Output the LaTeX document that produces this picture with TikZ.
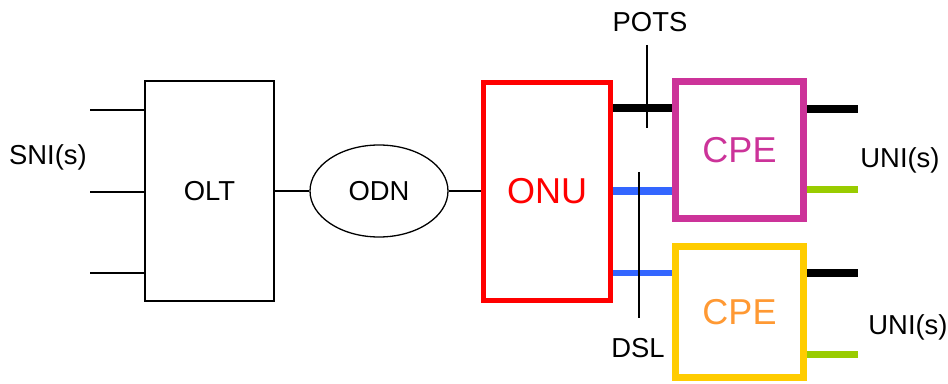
\documentclass[tikz,border=0pt]{standalone}
\usepackage{fontspec}
\setmainfont{Liberation Sans}
\usepackage{xcolor}
\usetikzlibrary{shapes.geometric}
\definecolor{onured}{HTML}{FF0000}
\definecolor{cpepink}{HTML}{CC3399}
\definecolor{cpegold}{HTML}{FFCC00}
\definecolor{cpeorange}{HTML}{FF9933}
\definecolor{dslblue}{HTML}{3366FF}
\definecolor{unigreen}{HTML}{99CC00}

\begin{document}
\begin{tikzpicture}[
   x=0.5pt,
   y=-0.5pt,
   line cap=butt,
   every node/.style={font=\fontsize{13.7}{16}\selectfont},
   box/.style={draw,rectangle,inner sep=0pt},
   bigtext/.style={font=\fontsize{18}{20}\selectfont},
   thin link/.style={line width=0.7pt},
   fat link/.style={line width=3.75pt}
 ]
   \useasboundingbox (0,0) rectangle (948,384);

   % Optical part: OLT, distribution network and ONU.
   \node[box,line width=0.75pt,minimum width=64.5pt,minimum height=110pt] (olt) at (209.5,191) {OLT};
   \node[draw,ellipse,inner sep=0pt,line width=0.65pt,minimum width=69pt,minimum height=46pt] (odn) at (379,191) {ODN};
   \node[box,bigtext,draw=onured,text=onured,line width=2.5pt,minimum width=63.5pt,minimum height=109pt] (onu) at (547,191.5) {ONU};

   % Customer premises equipment.
   \node[box,bigtext,draw=cpepink,text=cpepink,line width=3.5pt,minimum width=64pt,minimum height=68.5pt] (cpeA) at (739.5,150) {CPE};
   \node[box,bigtext,draw=cpegold,text=cpeorange,line width=3.5pt,minimum width=64pt,minimum height=65.5pt] (cpeB) at (739.5,312) {CPE};

   % Service node interfaces.
   \node (sni) at (48,157) {SNI(s)};
   \foreach \y [count=\i] in {110,192,273} {
     \coordinate (sni\i) at (90,\y);
     \draw[thin link] (sni\i) -- (sni\i -| olt.west);
   }
   \draw[thin link] (olt) -- (odn);
   \draw[thin link] (odn.east) -- (odn.east -| onu.west);

   % ONU to CPE lines.
   \coordinate (potsRow) at (0,108);
   \coordinate (dslRowA) at (0,191);
   \coordinate (dslRowB) at (0,273);
   \draw[fat link,black] (onu.east |- potsRow) -- (cpeA.west |- potsRow);
   \draw[fat link,dslblue] (onu.east |- dslRowA) -- (cpeA.west |- dslRowA);
   \draw[line width=3pt,dslblue] (onu.east |- dslRowB) -- (cpeB.west |- dslRowB);

   % Reference points.
   \node (pots) at (650,22) {POTS};
   \coordinate (potsTop) at (647,45);
   \coordinate (potsEnd) at (647,128);
   \draw[thin link] (potsTop) -- (potsEnd);
   \node (dsl) at (638,348) {DSL};
   \coordinate (dslTop) at (639,172);
   \coordinate (dslEnd) at (639,318);
   \draw[thin link] (dslTop) -- (dslEnd);

   % User network interfaces.
   \coordinate (uniA1) at (858,109);
   \coordinate (uniA2) at (858,190);
   \coordinate (uniB1) at (858,273);
   \coordinate (uniB2) at (858,355);
   \draw[line width=4pt,black] (cpeA.east |- uniA1) -- (uniA1);
   \draw[line width=3.5pt,unigreen] (cpeA.east |- uniA2) -- (uniA2);
   \draw[line width=4pt,black] (cpeB.east |- uniB1) -- (uniB1);
   \draw[line width=3.5pt,unigreen] (cpeB.east |- uniB2) -- (uniB2);
   \node (uniA) at (900,160) {UNI(s)};
   \node (uniB) at (908,327) {UNI(s)};
\end{tikzpicture}
\end{document}
